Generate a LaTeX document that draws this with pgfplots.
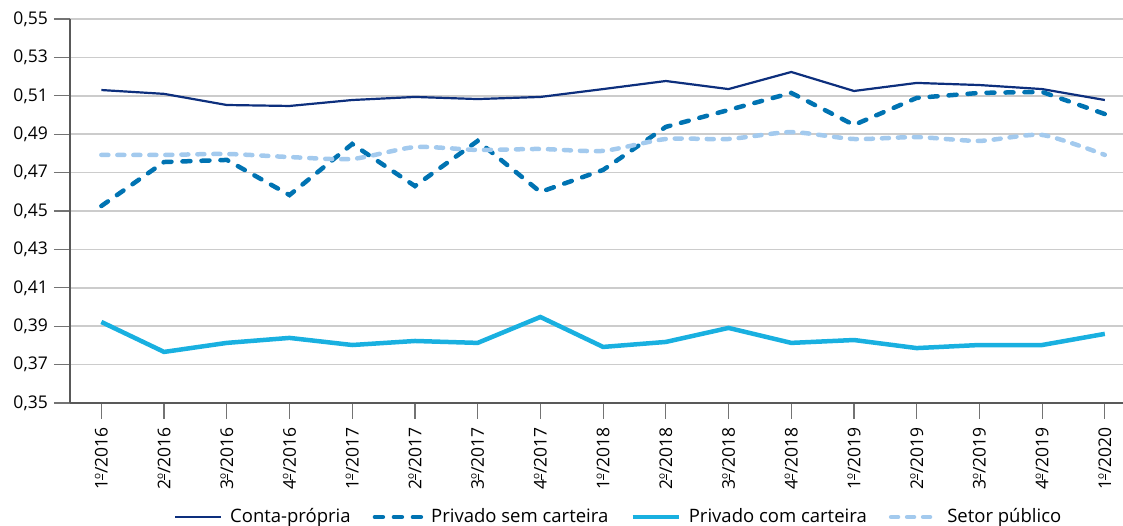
\documentclass[border=0pt]{standalone}
\usepackage{pgfplots}
\pgfplotsset{compat=1.18}
\usepackage{fontspec}
\setmainfont{Open Sans}
\definecolor{navy}{HTML}{0D2F7D}
\definecolor{midblue}{HTML}{0073B2}
\definecolor{cyanb}{HTML}{19B0E0}
\definecolor{lightb}{HTML}{A3CAEE}
\newcommand{\ord}{\raisebox{0.42em}{\fontsize{10}{10}\selectfont\underline{o}}}
\begin{document}
\fontsize{18}{21}\selectfont
\begin{tikzpicture}[x=1pt,y=1pt]
\useasboundingbox (0,0) rectangle (1123,526);
\begin{axis}[
 at={(70pt,123pt)}, anchor=south west,
 scale only axis, width=1053pt, height=384pt,
 xmin=-0.5, xmax=16.29, ymin=0.35, ymax=0.55,
 ytick={0.35,0.37,0.39,0.41,0.43,0.45,0.47,0.49,0.51,0.53,0.55},
 xtick={0,...,16},
 xticklabels={1\ord/2016,2\ord/2016,3\ord/2016,4\ord/2016,1\ord/2017,2\ord/2017,3\ord/2017,4\ord/2017,1\ord/2018,2\ord/2018,3\ord/2018,4\ord/2018,1\ord/2019,2\ord/2019,3\ord/2019,4\ord/2019,1\ord/2020},
 x tick label style={rotate=90, anchor=east, font=\fontsize{17.5}{21}\selectfont, inner sep=0pt, xshift=-8pt},
 y tick label style={font=\fontsize{17.5}{21}\selectfont, /pgf/number format/.cd, fixed, fixed zerofill, precision=2, use comma},
 /pgf/number format/assume math mode=true,
 axis x line=bottom, axis y line=left,
 axis line style={-, draw=black!65, line width=1.5pt},
 tick style={draw=black!55, line width=1.2pt},
 tick align=outside,
 major tick length=16pt,
 ymajorgrids, major grid style={draw=black!20, line width=1.5pt},
 clip=false,
 legend style={at={(0.521,-0.297)}, anchor=center, draw=none, fill=none, font=\fontsize{18.5}{21}\selectfont, /tikz/every even column/.append style={column sep=20pt}, /tikz/every odd column/.append style={column sep=6pt}},
 legend columns=4,
 legend image code/.code={\draw[#1] (0pt,0pt) -- (46pt,0pt);},
]
\addplot[navy, line width=2.2pt, mark=none] coordinates {
(0,0.5130)(1,0.5110)(2,0.5052)(3,0.5047)(4,0.5078)(5,0.5094)(6,0.5083)(7,0.5094)(8,0.5135)(9,0.5177)(10,0.5135)(11,0.5224)(12,0.5125)(13,0.5167)(14,0.5156)(15,0.5135)(16,0.5078)};
\addlegendentry{Conta-própria}
\addplot[midblue, line width=4.5pt, line cap=round, dash pattern=on 8pt off 11pt, mark=none] coordinates {
(0,0.4526)(1,0.4755)(2,0.4766)(3,0.4583)(4,0.4849)(5,0.4630)(6,0.4865)(7,0.4599)(8,0.4714)(9,0.4938)(10,0.5026)(11,0.5115)(12,0.4948)(13,0.5089)(14,0.5115)(15,0.5120)(16,0.5005)};
\addlegendentry{Privado sem carteira}
\addplot[cyanb, line width=4.5pt, mark=none] coordinates {
(0,0.3922)(1,0.3766)(2,0.3813)(3,0.3839)(4,0.3802)(5,0.3823)(6,0.3813)(7,0.3948)(8,0.3792)(9,0.3818)(10,0.3891)(11,0.3813)(12,0.3828)(13,0.3786)(14,0.3802)(15,0.3802)(16,0.3860)};
\addlegendentry{Privado com carteira}
\addplot[lightb, line width=4.5pt, line cap=round, dash pattern=on 7pt off 9pt, smooth, tension=0.4, mark=none] coordinates {
(0,0.4792)(1,0.4792)(2,0.4797)(3,0.4781)(4,0.4771)(5,0.4833)(6,0.4818)(7,0.4823)(8,0.4813)(9,0.4875)(10,0.4875)(11,0.4911)(12,0.4875)(13,0.4885)(14,0.4865)(15,0.4896)(16,0.4792)};
\addlegendentry{Setor público}
\end{axis}
\end{tikzpicture}
\end{document}
